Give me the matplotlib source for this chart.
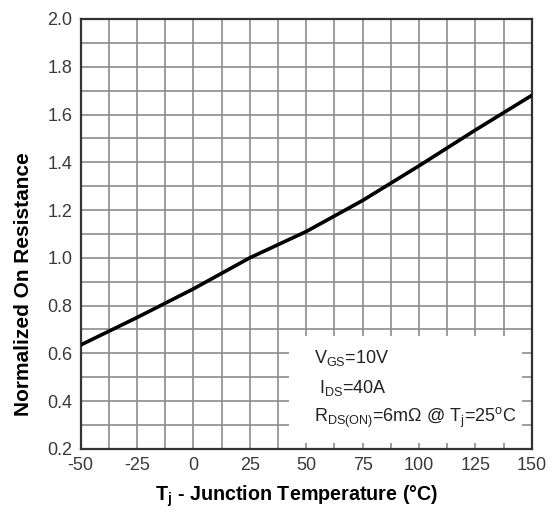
import numpy as np
import matplotlib
matplotlib.use("Agg")
import matplotlib.pyplot as plt
from matplotlib.patches import Rectangle
from matplotlib.ticker import MultipleLocator

plt.rcParams['font.family'] = ['Liberation Sans', 'DejaVu Sans']
plt.rcParams['mathtext.fontset'] = 'custom'
plt.rcParams['mathtext.rm'] = 'Liberation Sans'
plt.rcParams['mathtext.it'] = 'Liberation Sans'
plt.rcParams['mathtext.bf'] = 'Liberation Sans:bold'

# Data
temp_c = [-50, -25, 0, 25, 50, 75, 100, 125, 150]
norm_rds = [0.635, 0.75, 0.87, 1.0, 1.11, 1.24, 1.385, 1.535, 1.68]
x_ticks = [-50, -25, 0, 25, 50, 75, 100, 125, 150]
y_ticks = [0.2, 0.4, 0.6, 0.8, 1.0, 1.2, 1.4, 1.6, 1.8, 2.0]
note_lines = [r'V$_{\mathregular{GS}}$=10V',
              r'I$_{\mathregular{DS}}$=40A',
              r'R$_{\mathregular{DS(ON)}}$=6m$\Omega$ @ T$_{\mathregular{j}}$=25$^{\mathregular{o}}$C']

fig = plt.figure(figsize=(5.58, 5.13), dpi=100)
ax = fig.add_axes([0.1445, 0.125, 0.8085, 0.838])

ax.set_xlim(-50, 150)
ax.set_ylim(0.2, 2.0)
ax.set_xticks(x_ticks)
ax.set_yticks(y_ticks)
ax.set_xticklabels([str(v) for v in x_ticks])
ax.set_yticklabels([f"{v:.1f}" for v in y_ticks])
ax.xaxis.set_minor_locator(MultipleLocator(12.5))
ax.yaxis.set_minor_locator(MultipleLocator(0.1))
ax.tick_params(which='both', length=0, labelsize=13, labelcolor='#3a3a3a')
ax.tick_params(axis='x', pad=6)
ax.tick_params(axis='y', pad=6)

ax.set_axisbelow(True)
ax.grid(which='both', color='#8c8c8c', linewidth=1.2)

# white note box covering grid
ax.add_patch(Rectangle((42.5, 0.225), 103.0, 0.447, facecolor='white',
                       edgecolor='none', zorder=1))

ax.plot(temp_c, norm_rds, color='black', linewidth=2.6, zorder=3)

for s in ax.spines.values():
    s.set_color('#333333')
    s.set_linewidth(1.6)

note_pos = [(53.5, 0.579), (55.5, 0.454), (53.5, 0.329)]
for t, (x, y) in zip(note_lines, note_pos):
    ax.text(x, y, t, fontsize=13, color='#222222', va='center', ha='left',
            zorder=4)

ax.set_xlabel(r'T$_{\mathregular{j}}$ - Junction Temperature (°C)', fontsize=14.2,
              fontweight='bold', va='top')
ax.xaxis.set_label_coords(0.478, -0.08)
ax.set_ylabel('Normalized On Resistance', fontsize=15, fontweight='bold')
ax.yaxis.set_label_coords(-0.106, 0.384)

fig.savefig('out.png', dpi=100)
